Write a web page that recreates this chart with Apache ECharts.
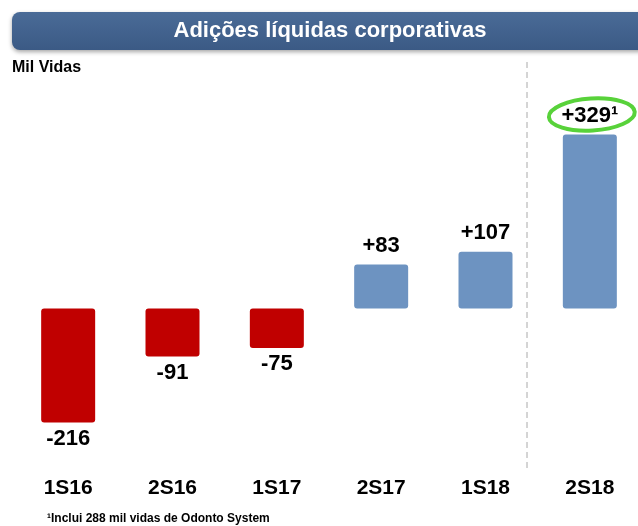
<!DOCTYPE html>
<html>
<head>
<meta charset="utf-8">
<script src="https://cdn.jsdelivr.net/npm/echarts@6/dist/echarts.min.js"></script>
<style>
  html, body { margin: 0; padding: 0; background: #fff; }
  #chart { width: 638px; height: 526px; }
</style>
</head>
<body>
<div id="chart"></div>
<script>
// periodos e adicoes liquidas (mil vidas)
const categories = ['1S16', '2S16', '1S17', '2S17', '1S18', '2S18'];
const values = [-216, -91, -75, 83, 107, 329];
const valueLabels = ['-216', '-91', '-75', '+83', '+107', '+329¹'];

const FONT = '"Liberation Sans", Arial, sans-serif';
const RED = '#C00000';
const BLUE = '#6D93C1';

const chart = echarts.init(document.getElementById('chart'));

let barData = values.map(function (v, i) {
  return {
    value: v,
    itemStyle: { color: v < 0 ? RED : BLUE },
    label: {
      position: v < 0 ? 'bottom' : 'top',
      distance: v < 0 ? 5 : 8,
      formatter: valueLabels[i]
    }
  };
});

let option = {
  animation: false,
  grid: { left: 16, width: 626, top: 97, bottom: 59, outerBoundsMode: 'none', containLabel: false },
  xAxis: {
    type: 'category',
    data: categories,
    axisLine: { show: false },
    axisTick: { show: false },
    axisLabel: {
      margin: 11,
      color: '#000',
      fontSize: 21,
      fontWeight: 'bold',
      fontFamily: FONT
    }
  },
  yAxis: {
    type: 'value',
    min: -300,
    max: 400,
    show: false,
    splitLine: { show: false }
  },
  series: [{
    type: 'bar',
    barWidth: 54,
    data: barData,
    itemStyle: { borderRadius: 3 },
    label: {
      show: true,
      color: '#000',
      fontSize: 22,
      fontWeight: 'bold',
      fontFamily: FONT
    }
  }],
  graphic: [
    {
      type: 'rect',
      left: 12, top: 12,
      shape: { width: 640, height: 38, r: 8 },
      style: {
        fill: new echarts.graphic.LinearGradient(0, 0, 0, 1, [
          { offset: 0, color: '#4A6B97' },
          { offset: 1, color: '#3B5A85' }
        ]),
        shadowBlur: 4,
        shadowOffsetY: 2,
        shadowColor: 'rgba(0,0,0,0.35)'
      }
    },
    {
      type: 'text',
      x: 330, y: 31,
      style: {
        text: 'Adições líquidas corporativas',
        fill: '#fff',
        font: 'bold 22px ' + FONT,
        align: 'center',
        verticalAlign: 'middle'
      }
    },
    {
      type: 'text',
      x: 12, y: 68,
      style: {
        text: 'Mil Vidas',
        fill: '#000',
        font: 'bold 16px ' + FONT,
        verticalAlign: 'middle'
      }
    },
    {
      type: 'line',
      shape: { x1: 527, y1: 62, x2: 527, y2: 470 },
      style: { stroke: '#AAAAAA', lineWidth: 1, lineDash: [6, 4] }
    },
    {
      type: 'text',
      x: 47, y: 519,
      style: {
        text: '¹Inclui 288 mil vidas de Odonto System',
        fill: '#000',
        font: 'bold 12px ' + FONT,
        verticalAlign: 'middle'
      }
    }
  ]
};

chart.setOption(option);

// destaque verde em volta do ultimo rotulo
const last = values.length - 1;
const pt = chart.convertToPixel({ seriesIndex: 0 }, [categories[last], values[last]]);
chart.setOption({
  graphic: [{
    type: 'ellipse',
    id: 'destaque',
    x: pt[0] + 2, y: pt[1] - 20,
    rotation: 0.06,
    shape: { cx: 0, cy: 0, rx: 43, ry: 16 },
    style: { fill: 'none', stroke: '#58D23A', lineWidth: 4 }
  }]
});
</script>
</body>
</html>
